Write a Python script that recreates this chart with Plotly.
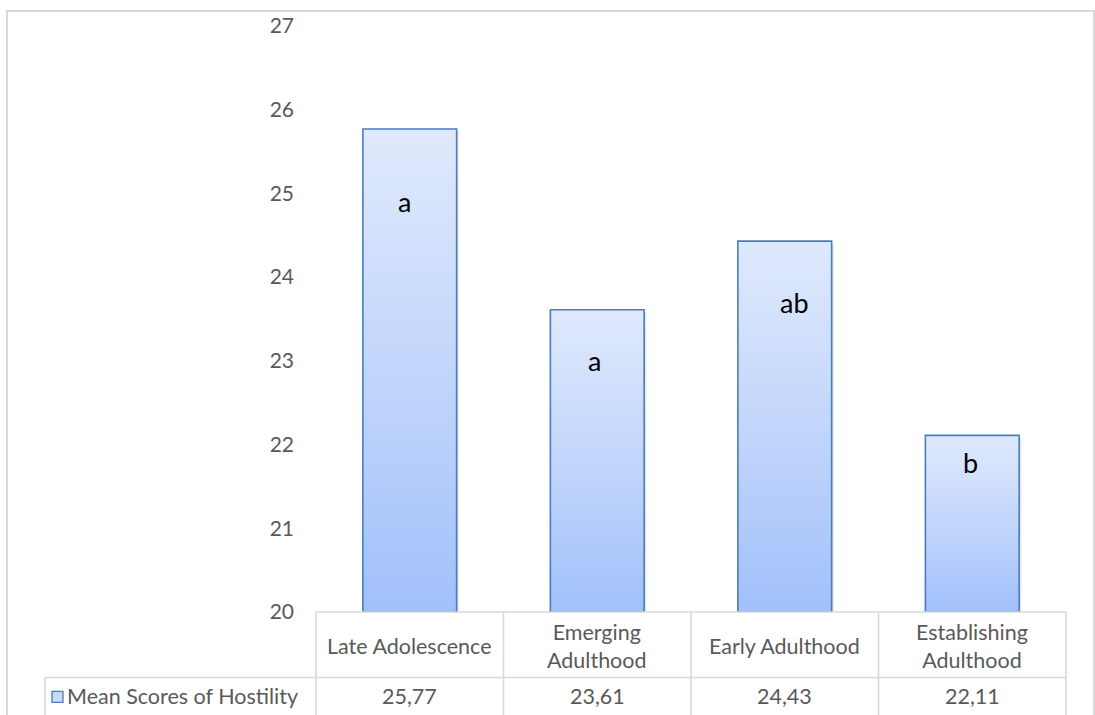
import plotly.graph_objects as go

# ---- data -------------------------------------------------------------
categories = ["Late Adolescence", "Emerging<br>Adulthood", "Early Adulthood", "Establishing<br>Adulthood"]
hostility_means = [25.77, 23.61, 24.43, 22.11]
group_letters = ["a", "a", "ab", "b"]
series_name = "Mean Scores of Hostility"
y_ticks = [20, 21, 22, 23, 24, 25, 26, 27]

# ---- page geometry (pixels) --------------------------------------------
W, H = 1095, 715
L, R, T, B = 316, 1066, 22, 612
Y_MIN, Y_MAX = 20, 27

def px_x(px):
    return (px - L) / (R - L)

def px_y(py):
    return (B - py) / (B - T)

GRAY_TXT = "#595959"
GRID = "#d9d9d9"
BAR_LINE = "#4a7ebb"
FONT = "Lato"
TABLE_SIZE = 21.5

BAR_HALF = 0.25
# letter placement inside each bar: (value-axis position, horizontal nudge in px)
letter_pos = [(24.9, -5), (23.0, -3), (23.7, 10), (21.78, -2)]

fig = go.Figure()

# bars as filled polygons so each one carries its own vertical gradient
for i, v in enumerate(hostility_means):
    x0, x1 = i - BAR_HALF, i + BAR_HALF
    # faint drop shadow
    fig.add_trace(go.Scatter(
        x=[x0 + 0.012, x1 + 0.012, x1 + 0.012, x0 + 0.012, x0 + 0.012],
        y=[Y_MIN, Y_MIN, v - 0.03, v - 0.03, Y_MIN],
        mode="lines", fill="toself", fillcolor="rgba(0,0,0,0.10)",
        line=dict(width=0), hoverinfo="skip", showlegend=False,
    ))
    fig.add_trace(go.Scatter(
        x=[x0, x1, x1, x0, x0],
        y=[Y_MIN, Y_MIN, v, v, Y_MIN],
        mode="lines", fill="toself",
        fillgradient=dict(type="vertical",
                          colorscale=[[0, "#a1c0fa"], [0.5, "#c2d6fb"], [1, "#dfe9fc"]]),
        line=dict(color=BAR_LINE, width=1.6),
        name=series_name, showlegend=False,
        hovertemplate=f"{categories[i].replace('<br>', ' ')}: {v}<extra></extra>",
    ))
    ly, lshift = letter_pos[i]
    fig.add_annotation(x=i, y=ly, xref="x", yref="y", text=group_letters[i],
                       showarrow=False, xshift=lshift,
                       font=dict(family=FONT, size=27, color="#000000"))

shapes = []
line_style = dict(color=GRID, width=1.6)

# outer chart frame
shapes.append(dict(type="rect", xref="paper", yref="paper",
                   x0=px_x(7), x1=px_x(1094), y0=px_y(730), y1=px_y(7),
                   line=dict(color=GRID, width=2), layer="below"))

# data table grid
col_edges = [L + (R - L) * k / len(categories) for k in range(len(categories) + 1)]
row_top, row_mid, row_bot = B, 678, 730
shapes.append(dict(type="line", xref="paper", yref="paper",
                   x0=px_x(L), x1=px_x(R), y0=px_y(row_top), y1=px_y(row_top), line=line_style))
shapes.append(dict(type="line", xref="paper", yref="paper",
                   x0=px_x(45), x1=px_x(R), y0=px_y(row_mid), y1=px_y(row_mid), line=line_style))
for ex in col_edges:
    shapes.append(dict(type="line", xref="paper", yref="paper",
                       x0=px_x(ex), x1=px_x(ex), y0=px_y(row_top), y1=px_y(row_bot), line=line_style))
shapes.append(dict(type="line", xref="paper", yref="paper",
                   x0=px_x(45), x1=px_x(45), y0=px_y(row_mid), y1=px_y(row_bot), line=line_style))

# legend key square
shapes.append(dict(type="rect", xref="paper", yref="paper",
                   x0=px_x(52), x1=px_x(63), y0=px_y(703), y1=px_y(692),
                   fillcolor="#c6d9fb", line=dict(color=BAR_LINE, width=1.3)))

# table text: category headers and values
for i, (cat, v) in enumerate(zip(categories, hostility_means)):
    fig.add_annotation(x=i, y=px_y(646), xref="x", yref="paper", text=cat,
                       showarrow=False, align="center", yanchor="middle",
                       font=dict(family=FONT, size=TABLE_SIZE, color=GRAY_TXT))
    fig.add_annotation(x=i, y=px_y(697), xref="x", yref="paper",
                       text=f"{v:.2f}".replace(".", ","),
                       showarrow=False, yanchor="middle",
                       font=dict(family=FONT, size=TABLE_SIZE, color=GRAY_TXT))
fig.add_annotation(x=px_x(65), y=px_y(697), xref="paper", yref="paper", text=series_name,
                   showarrow=False, xanchor="left", yanchor="middle",
                   font=dict(family=FONT, size=TABLE_SIZE, color=GRAY_TXT))

fig.update_layout(
    width=W, height=H,
    margin=dict(l=L, r=W - R, t=T, b=H - B, pad=0),
    paper_bgcolor="white", plot_bgcolor="white",
    shapes=shapes,
    showlegend=False,
    xaxis=dict(range=[-0.5, len(categories) - 0.5], showticklabels=False,
               showgrid=False, zeroline=False, showline=False, fixedrange=True),
    yaxis=dict(range=[Y_MIN, Y_MAX], tickvals=y_ticks, showgrid=False, zeroline=False,
               showline=False, ticks="", ticklabelstandoff=21,
               tickfont=dict(family=FONT, size=21, color=GRAY_TXT), fixedrange=True),
)

fig.write_html("out.html")
